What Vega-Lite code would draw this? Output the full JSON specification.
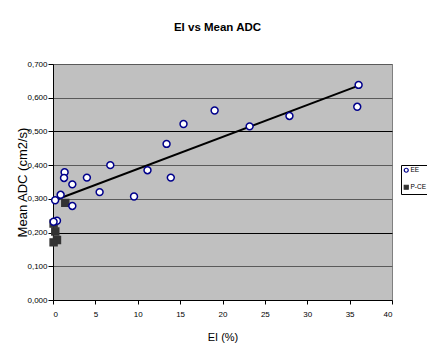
{
  "$schema": "https://vega.github.io/schema/vega-lite/v6.json",
  "width": 339,
  "height": 236,
  "autosize": "none",
  "padding": {"left": 53, "top": 64, "right": 35, "bottom": 55},
  "background": "white",
  "title": {
    "text": "EI vs Mean ADC",
    "font": "Liberation Sans, Arial, sans-serif",
    "fontSize": 11.5,
    "fontWeight": "bold",
    "color": "black",
    "anchor": "middle",
    "offset": 27,
    "dx": -5
  },
  "datasets": {
    "points": [
      {"series": "P-CE", "EI": 1.45, "ADC": 0.288},
      {"series": "P-CE", "EI": 0.07, "ADC": 0.227},
      {"series": "P-CE", "EI": 0.27, "ADC": 0.203},
      {"series": "P-CE", "EI": 0.47, "ADC": 0.178},
      {"series": "P-CE", "EI": 0.07, "ADC": 0.171},
      {"series": "EE", "EI": 36.06, "ADC": 0.638},
      {"series": "EE", "EI": 35.9, "ADC": 0.573},
      {"series": "EE", "EI": 27.9, "ADC": 0.546},
      {"series": "EE", "EI": 23.2, "ADC": 0.515},
      {"series": "EE", "EI": 19.07, "ADC": 0.562},
      {"series": "EE", "EI": 15.4, "ADC": 0.522},
      {"series": "EE", "EI": 13.4, "ADC": 0.463},
      {"series": "EE", "EI": 13.9, "ADC": 0.363},
      {"series": "EE", "EI": 11.15, "ADC": 0.385},
      {"series": "EE", "EI": 9.56, "ADC": 0.307},
      {"series": "EE", "EI": 6.76, "ADC": 0.4},
      {"series": "EE", "EI": 5.5, "ADC": 0.32},
      {"series": "EE", "EI": 4.0, "ADC": 0.363},
      {"series": "EE", "EI": 2.28, "ADC": 0.343},
      {"series": "EE", "EI": 2.28, "ADC": 0.279},
      {"series": "EE", "EI": 1.37, "ADC": 0.379},
      {"series": "EE", "EI": 1.3, "ADC": 0.362},
      {"series": "EE", "EI": 0.9, "ADC": 0.312},
      {"series": "EE", "EI": 0.25, "ADC": 0.296},
      {"series": "EE", "EI": 0.47, "ADC": 0.235},
      {"series": "EE", "EI": 0.07, "ADC": 0.232}
    ],
    "trend": [
      {"EI": 0.2, "ADC": 0.296},
      {"EI": 36.06, "ADC": 0.636}
    ]
  },
  "layer": [
    {
      "data": {"name": "trend"},
      "mark": {"type": "line", "color": "black", "strokeWidth": 2},
      "encoding": {
        "x": {"field": "EI", "type": "quantitative", "scale": {"domain": [0, 40], "nice": false}},
        "y": {"field": "ADC", "type": "quantitative", "scale": {"domain": [0, 0.7], "nice": false}}
      }
    },
    {
      "data": {"name": "points"},
      "mark": {"type": "point", "filled": true, "size": 48, "strokeWidth": 1.5, "opacity": 1},
      "encoding": {
        "x": {
          "field": "EI", "type": "quantitative",
          "axis": {"title": "EI (%)", "values": [0, 5, 10, 15, 20, 25, 30, 35, 40], "tickCount": 9, "grid": false}
        },
        "y": {
          "field": "ADC", "type": "quantitative",
          "axis": {
            "title": "Mean ADC (cm2/s)",
            "values": [0, 0.1, 0.2, 0.3, 0.4, 0.5, 0.6, 0.7],
            "tickCount": 8,
            "labelOverlap": false,
            "labelExpr": "replace(format(datum.value, '.3f'), '.', ',')",
            "grid": true,
            "gridColor": {
              "condition": {"test": "abs(datum.value - 0.2) < 0.001 || abs(datum.value - 0.5) < 0.001", "value": "#000000"},
              "value": "#5a5a5a"
            }
          }
        },
        "shape": {
          "field": "series", "type": "nominal",
          "scale": {"domain": ["EE", "P-CE"], "range": ["circle", "square"]},
          "legend": {"title": null}
        },
        "fill": {
          "field": "series", "type": "nominal",
          "scale": {"domain": ["EE", "P-CE"], "range": ["#ffffff", "#333333"]},
          "legend": {"title": null}
        },
        "stroke": {
          "field": "series", "type": "nominal",
          "scale": {"domain": ["EE", "P-CE"], "range": ["#00008b", "#333333"]},
          "legend": {"title": null}
        }
      }
    },
    {
      "mark": {"type": "text", "align": "left", "baseline": "middle", "fontSize": 10.5, "color": "black"},
      "encoding": {
        "x": {"datum": 32.0, "type": "quantitative"},
        "y": {"datum": 0.175, "type": "quantitative"},
        "text": {"value": "r = 0.90*"}
      }
    },
    {
      "mark": {"type": "text", "align": "left", "baseline": "middle", "fontSize": 10.5, "color": "black"},
      "encoding": {
        "x": {"datum": 32.0, "type": "quantitative"},
        "y": {"datum": 0.123, "type": "quantitative"},
        "text": {"value": "p = 0.00001"}
      }
    }
  ],
  "config": {
    "font": "Liberation Sans, Arial, sans-serif",
    "view": {"fill": "#c0c0c0", "stroke": "#808080", "strokeWidth": 1},
    "axis": {
      "domainColor": "#000000",
      "domainWidth": 1,
      "tickColor": "#000000",
      "labelColor": "#000000",
      "labelFontSize": 8,
      "titleColor": "#000000",
      "titleFontWeight": "normal",
      "gridWidth": 1
    },
    "axisX": {"tickSize": 4, "labelPadding": 6, "titleFontSize": 11, "titlePadding": 13},
    "axisY": {"tickSize": 5, "labelPadding": 1, "titleFontSize": 13, "titlePadding": -3},
    "legend": {
      "orient": "none",
      "legendX": 348,
      "legendY": 101,
      "fillColor": "#ffffff",
      "strokeColor": "#000000",
      "strokeWidth": 1,
      "padding": 2,
      "labelFontSize": 6.5,
      "labelColor": "#000000",
      "symbolSize": 16,
      "symbolStrokeWidth": 1.2,
      "rowPadding": 7,
      "labelOffset": 1
    },
    "text": {"font": "Liberation Sans, Arial, sans-serif"}
  }
}
